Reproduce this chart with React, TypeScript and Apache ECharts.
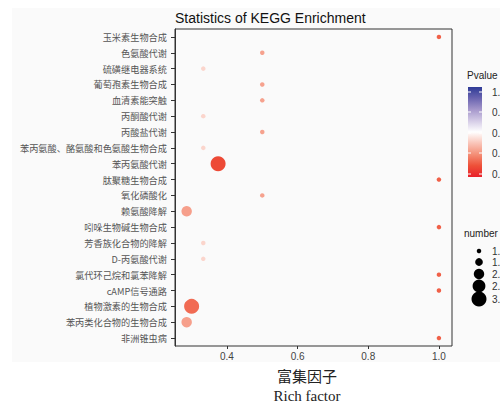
import React, { useEffect, useRef } from "react";
import * as echarts from "echarts";

const categories = [
  "玉米素生物合成",
  "色氨酸代谢",
  "硫磺继电器系统",
  "葡萄孢素生物合成",
  "血清素能突触",
  "丙酮酸代谢",
  "丙酸盐代谢",
  "苯丙氨酸、酪氨酸和色氨酸生物合成",
  "苯丙氨酸代谢",
  "肽聚糖生物合成",
  "氧化磷酸化",
  "赖氨酸降解",
  "吲哚生物碱生物合成",
  "芳香族化合物的降解",
  "D-丙氨酸代谢",
  "氯代环己烷和氯苯降解",
  "cAMP信号通路",
  "植物激素的生物合成",
  "苯丙类化合物的生物合成",
  "非洲锥虫病",
];
const richFactor = [1.0, 0.5, 0.333, 0.5, 0.5, 0.333, 0.5, 0.333, 0.375, 1.0, 0.5, 0.286, 1.0, 0.333, 0.333, 1.0, 1.0, 0.3, 0.286, 1.0];
const geneNumber = [1, 1, 1, 1, 1, 1, 1, 1, 3, 1, 1, 2, 1, 1, 1, 1, 1, 3, 2, 1];
const pValues = [0.157, 0.296, 0.41, 0.296, 0.296, 0.41, 0.296, 0.41, 0.11, 0.157, 0.296, 0.29, 0.157, 0.41, 0.41, 0.157, 0.157, 0.18, 0.29, 0.157];

const xTicks = [0.4, 0.6, 0.8, 1.0];
// legend labels as visible at the right edge of the reference (cut by the image border)
const pLegendLabels = ["1.", "0.", "0.", "0.", "0."];
const numberLegend = [1.0, 1.5, 2.0, 2.5, 3.0];
const numberLegendLabels = ["1.", "1.", "2.", "2.", "3."];

const pColors = ["#e8202a", "#ee5038", "#f48e76", "#f9c4b8", "#ffffff", "#d4cbe6", "#a597cb", "#6a64b0", "#2e3b96"];

const sizeOf = (c: number) => 4.5 + ((Math.sqrt(c) - 1) / (Math.sqrt(3) - 1)) * 10.5;

export default function App() {
  const ref = useRef<HTMLDivElement>(null);
  useEffect(() => {
    if (!ref.current) return;
    const chart = echarts.init(ref.current, null, { renderer: "svg" });
    const data = categories.map((c, i) => [richFactor[i], c, pValues[i], geneNumber[i]]);

    const pLabelY = [92, 112, 133, 153, 174];
    const numY = [251, 262, 274, 286, 299];

    const graphic: any[] = [
      { type: "rect", z: -10, shape: { x: 12, y: 8, width: 488, height: 354 }, style: { fill: "#fafafa" }, silent: true },
      { type: "text", x: 307, y: 375, style: { text: "富集因子", fill: "#222", font: "15px 'Noto Sans CJK SC'", textAlign: "center", textVerticalAlign: "middle" } },
      { type: "text", x: 307, y: 396, style: { text: "Rich factor", fill: "#222", font: "15px 'Liberation Serif'", textAlign: "center", textVerticalAlign: "middle" } },
      { type: "text", x: 467, y: 75, style: { text: "Pvalue", fill: "#222", font: "10px 'Liberation Sans'", textAlign: "left", textVerticalAlign: "middle" } },
      {
        type: "rect",
        shape: { x: 468, y: 87, width: 14, height: 90 },
        style: {
          fill: new echarts.graphic.LinearGradient(
            0,
            1,
            0,
            0,
            pColors.map((c, i) => ({ offset: i / (pColors.length - 1), color: c }))
          ),
        },
      },
      { type: "text", x: 464, y: 233, style: { text: "number", fill: "#222", font: "10px 'Liberation Sans'", textAlign: "left", textVerticalAlign: "middle" } },
    ];
    pLegendLabels.forEach((t, i) => {
      graphic.push({ type: "line", shape: { x1: 468, y1: pLabelY[i], x2: 471, y2: pLabelY[i] }, style: { stroke: "#ffffff", lineWidth: 1 } });
      graphic.push({ type: "line", shape: { x1: 479, y1: pLabelY[i], x2: 482, y2: pLabelY[i] }, style: { stroke: "#ffffff", lineWidth: 1 } });
      graphic.push({ type: "text", x: 492, y: pLabelY[i], style: { text: t, fill: "#333", font: "10px 'Liberation Sans'", textAlign: "left", textVerticalAlign: "middle" } });
    });
    numberLegend.forEach((n, i) => {
      graphic.push({ type: "circle", shape: { cx: 479, cy: numY[i], r: sizeOf(n) / 2 }, style: { fill: "#000" } });
      graphic.push({ type: "text", x: 492, y: numY[i], style: { text: numberLegendLabels[i], fill: "#333", font: "10px 'Liberation Sans'", textAlign: "left", textVerticalAlign: "middle" } });
    });

    chart.setOption({
      animation: false,
      backgroundColor: "#ffffff",
      title: {
        text: "Statistics of KEGG Enrichment",
        left: 170,
        top: 6,
        textStyle: { fontSize: 14, fontWeight: "normal", color: "#111", fontFamily: "'Liberation Sans', Arial, sans-serif" },
      },
      grid: { left: 175, right: 48, top: 29, bottom: 58, show: true, borderColor: "#333", borderWidth: 1, backgroundColor: "#fafafa" },
      xAxis: {
        type: "value",
        min: 0.253,
        max: 1.037,
        splitLine: { show: false },
        axisLine: { lineStyle: { color: "#333" } },
        axisTick: { show: true, length: 3, lineStyle: { color: "#333" }, customValues: xTicks },
        axisLabel: { customValues: xTicks, formatter: (v: number) => v.toFixed(1), fontSize: 10, color: "#444", margin: 5, fontFamily: "'Liberation Sans', Arial, sans-serif" },
      },
      yAxis: {
        type: "category",
        data: categories,
        inverse: true,
        axisLine: { lineStyle: { color: "#333" } },
        axisTick: { show: true, length: 4, alignWithLabel: true, lineStyle: { color: "#333" } },
        axisLabel: { fontSize: 9.2, color: "#555", margin: 8, fontFamily: "'Noto Sans CJK SC', sans-serif" },
        splitLine: { show: false },
      },
      visualMap: {
        type: "continuous",
        show: false,
        dimension: 2,
        min: 0,
        max: 1,
        inRange: { color: pColors },
      },
      series: [
        {
          type: "scatter",
          data,
          symbolSize: (v: any[]) => sizeOf(v[3]),
          itemStyle: { opacity: 1 },
        },
      ],
      graphic,
    });
    return () => chart.dispose();
  }, []);
  return <div ref={ref} style={{ position: "fixed", left: 0, top: 0, width: 500, height: 404 }} />;
}
